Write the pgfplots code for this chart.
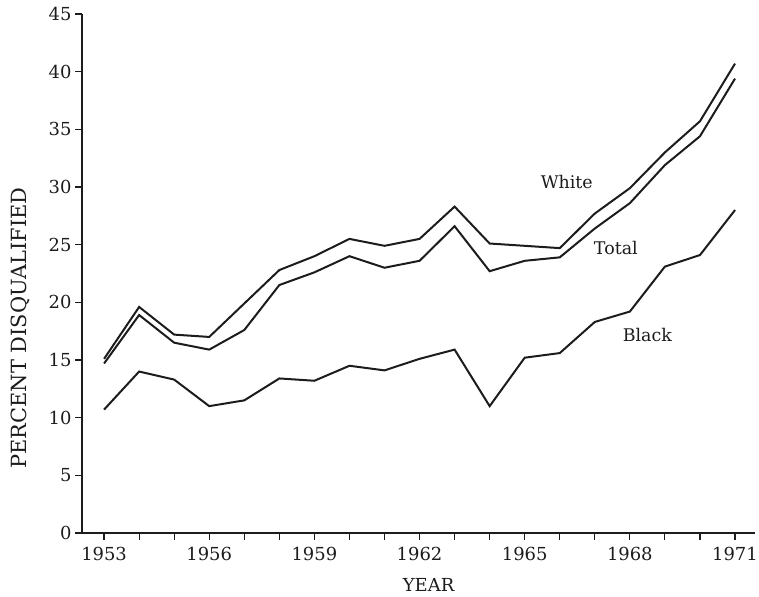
\documentclass[border=0pt]{standalone}
\usepackage{pgfplots}
\pgfplotsset{compat=1.18}
\usepackage{pgfplotstable}
\usepackage{fontspec}
\setmainfont{DejaVu Serif}

% Percent of examinees disqualified, by year
\pgfplotstableread{
year white total black
1953 15.1 14.7 10.7
1954 19.6 18.9 14.0
1955 17.2 16.5 13.3
1956 17.0 15.9 11.0
1957 19.9 17.6 11.5
1958 22.8 21.5 13.4
1959 24.0 22.6 13.2
1960 25.5 24.0 14.5
1961 24.9 23.0 14.1
1962 25.5 23.6 15.1
1963 28.3 26.6 15.9
1964 25.1 22.7 11.0
1965 24.9 23.6 15.2
1966 24.7 23.9 15.6
1967 27.7 26.4 18.3
1968 29.9 28.6 19.2
1969 33.0 31.9 23.1
1970 35.7 34.4 24.1
1971 40.7 39.4 28.0
}\disq

\definecolor{ink}{HTML}{1C1C1C}

\begin{document}
\begin{tikzpicture}
\begin{axis}[
  name=ax,
  anchor=south west,
  at={(0,0)},
  scale only axis,
  width=673bp, height=519bp,
  xmin=1952.37, xmax=1971.57,
  ymin=0, ymax=45,
  axis x line=bottom, axis y line=left,
  axis line style={ink, line width=1.6bp, -},
  xtick={1953,...,1971},
  xticklabels={1953,,,1956,,,1959,,,1962,,,1965,,,1968,,,1971},
  ytick={0,5,...,45},
  tick align=outside,
  major tick length=7bp,
  tick style={ink, line width=1.2bp},
  /pgf/number format/assume math mode=true,
  xticklabel style={font=\fontsize{18}{20}\selectfont, text=ink, yshift=-4bp},
  yticklabel style={font=\fontsize{18}{20}\selectfont, text=ink},
  xlabel={YEAR},
  ylabel={PERCENT DISQUALIFIED},
  every axis x label/.style={at={(axis description cs:0.515,-0.1)}, anchor=center, font=\fontsize{18}{20}\selectfont, text=ink},
  every axis y label/.style={at={(axis description cs:-0.0921,0.395)}, rotate=90, anchor=center, font=\fontsize{21}{23}\selectfont, text=ink},
  clip=false,
]
\addplot[ink, line width=2bp] table[x=year, y=white] {\disq};
\addplot[ink, line width=2bp] table[x=year, y=total] {\disq};
\addplot[ink, line width=2bp] table[x=year, y=black] {\disq};

\node[font=\fontsize{17.5}{19}\selectfont, text=ink] at (axis cs:1966.2,30.4) {White};
\node[font=\fontsize{17.5}{19}\selectfont, text=ink] at (axis cs:1967.6,24.7) {Total};
\node[font=\fontsize{17.5}{19}\selectfont, text=ink] at (axis cs:1968.5,17.2) {Black};
\end{axis}
\pgfresetboundingbox
\useasboundingbox (-82bp,-64bp) rectangle (677bp,533bp);
\end{tikzpicture}
\end{document}
